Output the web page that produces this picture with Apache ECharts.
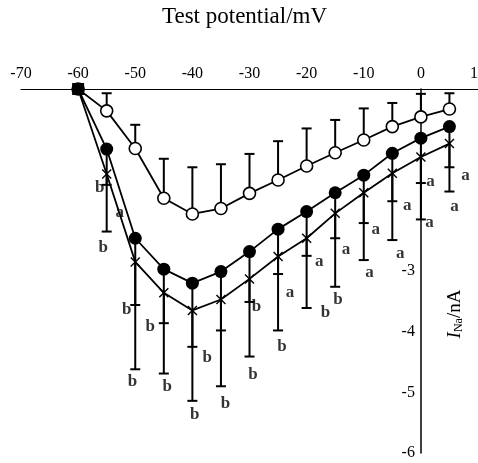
<!DOCTYPE html>
<html><head><meta charset="utf-8">
<script src="https://cdn.jsdelivr.net/npm/echarts@6/dist/echarts.min.js"></script>
<style>html,body{margin:0;padding:0;background:#fff}#c{width:478px;height:463px}</style>
</head><body><div id="c"></div>
<script>
// Test potentials (mV)
const potentials = [-60,-55,-50,-45,-40,-35,-30,-25,-20,-15,-10,-5,0,5];
// Control (open circles): mean and upper error end
const controlMean  = [0,-0.36,-0.98,-1.80,-2.06,-1.97,-1.72,-1.50,-1.27,-1.05,-0.84,-0.62,-0.46,-0.33];
const controlUpper = [null,-0.07,-0.59,-1.15,-1.29,-1.24,-1.07,-0.86,-0.65,-0.51,-0.32,-0.23,-0.08,-0.07];
// Group 1 (filled circles): mean and lower error end
const filledMean  = [0,-0.99,-2.46,-2.97,-3.20,-3.01,-2.68,-2.31,-2.02,-1.71,-1.42,-1.06,-0.81,-0.62];
const filledLower = [null,-1.58,-3.56,-3.86,-4.25,-3.98,-3.51,-3.05,-2.75,-2.46,-2.21,-1.85,-1.55,-1.29];
// Group 2 (crosses): mean and lower error end
const crossMean  = [0,-1.40,-2.85,-3.36,-3.65,-3.47,-3.13,-2.76,-2.46,-2.05,-1.71,-1.39,-1.12,-0.90];
const crossLower = [null,-2.35,-4.62,-4.69,-5.14,-4.90,-4.41,-3.98,-3.61,-3.26,-2.82,-2.49,-2.15,-1.69];
// Significance letters
const sigX    = [-56.2,-55.6,-52.7,-51.5,-50.5,-47.4,-44.4,-39.6,-37.4,-34.2,-28.8,-29.4,-22.9,-24.3,-17.8,-16.7,-13.1,-14.5,-7.9,-9.0,-2.4,-3.6,1.7,1.5,7.8,5.9];
const sigY    = [-1.63,-2.62,-2.03,-3.64,-4.83,-3.91,-4.91,-5.37,-4.43,-5.18,-3.59,-4.71,-3.36,-4.25,-2.85,-3.69,-2.64,-3.47,-2.32,-3.03,-1.93,-2.71,-1.53,-2.20,-1.42,-1.94];
const sigText = ['b','b','a','b','b','b','b','b','b','b','b','b','a','b','a','b','a','b','a','a','a','a','a','a','a','a'];
// Axis tick labels
const xTicks = [-70,-60,-50,-40,-30,-20,-10,0,10];
const yTickLabels = {'-3':'-3','-4':'-4','-5':'-5','-6':'-6'};

const serif = '"Liberation Serif","Times New Roman",serif';
const chart = echarts.init(document.getElementById('c'));

const gridLeft = 21, gridRight = 0, W = 478;
const xMin = -70, xMax = 10;
// place the y axis at x = 0 mV
const zeroOffset = -((0 - xMin) / (xMax - xMin)) * (W - gridLeft - gridRight);

function pairs(ys){ return potentials.map((x,i)=>[x, ys[i]]); }
function errData(mean, end){ const o=[]; potentials.forEach((x,i)=>{ if(end[i]!==null) o.push([x, mean[i], end[i]]); }); return o; }
function errRender(params, api){
  const x=api.value(0), a=api.value(1), b=api.value(2);
  const p0=api.coord([x,a]), p1=api.coord([x,b]); const w=5;
  return {type:'group', children:[
    {type:'line', shape:{x1:p0[0],y1:p0[1],x2:p1[0],y2:p1[1]}, style:{stroke:'#000',lineWidth:2}},
    {type:'line', shape:{x1:p1[0]-w,y1:p1[1],x2:p1[0]+w,y2:p1[1]}, style:{stroke:'#000',lineWidth:2}}
  ]};
}
const crossPath = 'path://M0,1L1,0L5,4L9,0L10,1L6,5L10,9L9,10L5,6L1,10L0,9L4,5Z';

const filledData = pairs(filledMean);
filledData[0] = {value:[potentials[0], filledMean[0]], symbol:'rect', symbolSize:12};

chart.setOption({
  animation:false,
  backgroundColor:'#fff',
  title:{text:'Test potential/mV', left:157, top:0,
    textStyle:{fontFamily:serif, fontSize:23, fontWeight:'normal', color:'#000'}},
  grid:{left:gridLeft, right:gridRight, top:89, bottom:10, containLabel:false, outerBoundsMode:'none'},
  xAxis:{type:'value', position:'top', min:xMin, max:xMax, interval:10,
    axisLine:{onZero:false, lineStyle:{color:'#000', width:1.2}},
    axisTick:{show:false}, splitLine:{show:false},
    axisLabel:{fontFamily:serif, fontSize:16, color:'#000', margin:7,
      formatter:v=> xTicks.indexOf(v)>=0 ? String(v) : ''}},
  yAxis:{type:'value', min:-6, max:0, interval:1, position:'left', offset:zeroOffset,
    axisLine:{show:true, onZero:false, lineStyle:{color:'#000', width:1.5}},
    axisTick:{show:false}, splitLine:{show:false},
    axisLabel:{fontFamily:serif, fontSize:16, color:'#000', margin:6,
      formatter:v=> yTickLabels[String(v)] || ''},
    name:'{i|I}{s|Na}{n|/nA}', nameLocation:'middle', nameGap:-44, nameRotate:90,
    nameTextStyle:{padding:[0,86,0,0], rich:{
      i:{fontFamily:serif, fontStyle:'italic', fontSize:19, color:'#000'},
      s:{fontFamily:serif, fontSize:12, color:'#000', verticalAlign:'bottom', padding:[8,0,0,0]},
      n:{fontFamily:serif, fontSize:19, color:'#000'}}}},
  series:[
    {type:'custom', renderItem:errRender, data:errData(controlMean, controlUpper), z:2, silent:true},
    {type:'custom', renderItem:errRender, data:errData(filledMean, filledLower), z:2, silent:true},
    {type:'custom', renderItem:errRender, data:errData(crossMean, crossLower), z:2, silent:true},
    {type:'line', data:pairs(crossMean), symbol:crossPath, symbolSize:10, showSymbol:true,
      lineStyle:{color:'#000', width:1.8}, itemStyle:{color:'#000'}, z:3},
    {type:'line', data:pairs(controlMean), symbol:'circle', symbolSize:12,
      lineStyle:{color:'#000', width:1.8}, itemStyle:{color:'#fff', borderColor:'#000', borderWidth:1.6}, z:4},
    {type:'line', data:filledData, symbol:'circle', symbolSize:13,
      lineStyle:{color:'#000', width:1.8}, itemStyle:{color:'#000'}, z:5},
    {type:'scatter', data:sigX.map((x,i)=>[x, sigY[i], sigText[i]]), symbolSize:0, z:6,
      label:{show:true, position:'inside', formatter:p=>p.data[2],
        fontFamily:serif, fontSize:17, fontWeight:'bold', color:'#000'}}
  ]
});
</script></body></html>
